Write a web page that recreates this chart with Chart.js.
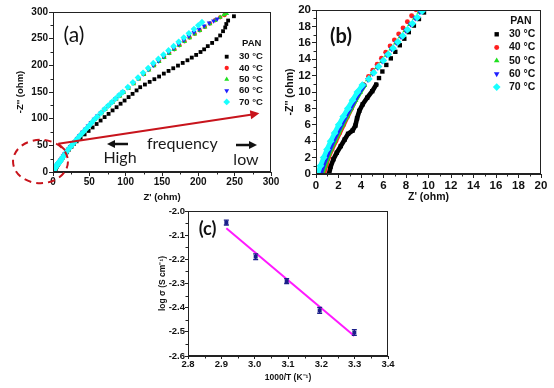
<!DOCTYPE html>
<html>
<head>
<meta charset="utf-8">
<script src="https://cdn.jsdelivr.net/npm/chart.js@4.4.1/dist/chart.umd.min.js"></script>
<style>
  html, body { margin: 0; padding: 0; background: #fff; }
  #wrap { position: relative; width: 554px; height: 388px; overflow: hidden; background: #fff; }
  canvas { position: absolute; }
</style>
</head>
<body>
<div id="wrap">
  <canvas id="chartA" width="295" height="206" style="left:0px;top:0px"></canvas>
  <canvas id="chartB" width="274" height="206" style="left:280px;top:0px"></canvas>
  <canvas id="chartC" width="260" height="188" style="left:150px;top:200px"></canvas>
</div>
<script>
// Nyquist data, [Z', -Z''] in ohm, one list per temperature
const temps = ['30 °C', '40 °C', '50 °C', '60 °C', '70 °C'];

const z30 = [[1.15,0],[1.3,0.9],[1.55,1.8],[1.85,2.6],[2.2,3.4],[2.55,4.2],[2.85,4.9],[3.25,5.3],[3.5,5.9],[3.65,6.8],[3.85,7.7],[4.15,8.5],[4.55,9.3],[5.0,10.1],[5.35,10.9],
  [5.6,11.7],[5.9,12.5],[6.25,13.3],[6.65,14.1],[7.05,14.9],[7.45,15.7],[7.85,16.5],[8.25,17.3],[8.7,18.1],[9.15,18.9],[9.6,19.7],[10.1,20.5],
  [11.5,23],[13.5,27],[16,32],[19,37],[22,42],[25.5,47.5],[29,53],[32.5,57.5],
  [38,64],[43.5,70.5],[49,77],[54.5,83.5],[60,90],[65.5,96.5],[71,103],[76.5,109],[82,115.5],[87.5,121.5],[93,128],[98.5,134],[104,140.5],[109.5,146.5],[115,153],[120,159],
  [126.5,164],[133,169],[139.5,174],[146,179],[152.5,184.5],[159,189.5],[165.5,194.5],[172,199.5],[178.5,204.5],[185,209.5],[191,214.5],[197,219.5],
  [203,225],[208,230],[213,236],[219,242],[225,249],[230,256],[234,264],[237,271],[238.5,277.5],[241,284],[249,292]];

const z40 = [[0.7,0],[0.88,1],[1.1,2],[1.4,3],[1.75,4],[2.1,5],[2.45,6],[2.8,7],[3.15,8],[3.5,9],[3.85,10],[4.2,10.9],
  [4.67,11.9],[5.05,12.64],[5.44,13.38],[5.82,14.12],[6.2,14.86],[6.59,15.6],[6.97,16.34],[7.35,17.08],[7.74,17.82],[8.12,18.56],[8.5,19.3],[8.88,20.04],[9.27,20.78],
  [10.5,23],[12,26],[14,30],[16,34],[18.5,38.5],[21,43],[24,48],[27,53],[30,57.5],[33.5,63],[37,68.5],[41,74.5],[45,80.5],[49,86.5],[53,92.5],[57.5,99],[62,105],[67,111.5],[72,118],[77,124.5],[82,131],[87,137],[92,143],[97,149.5],
  [104,158],[111,166.5],[118,175],[125,183.5],[132,192],[139,200],[146,208],[153,215.5],[160,223],[167,230],[174,237.5],[181,245],[188,252],[195,259],[202,265.5],[209,272],[216,278.5],[223,284.5],[230,290],[236,294]];

const z50 = [[0.55,0],[0.78,1],[1.03,2],[1.32,3],[1.65,4],[2.0,5],[2.35,6],[2.73,7],[3.12,8],[3.52,9],[3.93,10],[4.3,10.8],
  [4.6,11.5],[5.02,12.25],[5.43,13],[5.85,13.75],[6.27,14.5],[6.68,15.25],[7.1,16],[7.52,16.75],[7.93,17.5],[8.35,18.25],[8.77,19],[9.18,19.75],[9.6,20.5],
  [10.7,23],[12.2,26],[14.2,30],[16.2,34],[18.7,38.5],[21.2,43],[24.2,48],[27.2,53],[30.2,57.5],[33.7,63],[37.2,68.5],[41.2,74.5],[45.2,80.5],[49.2,86.5],[53.2,92.5],[57.5,98.5],[62,104.5],[67,111],[72,117.5],[77,124],[82,130.5],[87,136.5],[92,142.5],[97,149],
  [104,157],[111,165.5],[118,174],[125,182.5],[132,191],[139,199],[146,207],[153,214.5],[160,222],[167,229.5],[174,237],[181,244.5],[188,251.5],[195,258.5],[202,265],[209,271.5],[216,278],[223,284],[230,290],[235,294.5],[239,297]];

const z60 = [[0.4,0],[0.63,1],[0.9,2],[1.2,3],[1.52,4],[1.87,5],[2.23,6],[2.62,7],[3.02,8],[3.43,9],[3.85,10],[4.25,10.8],
  [4.62,11.5],[5.04,12.25],[5.46,13],[5.88,13.75],[6.3,14.5],[6.72,15.25],[7.14,16],[7.56,16.75],[7.98,17.5],[8.4,18.25],[8.82,19],[9.24,19.75],[9.66,20.5],
  [10.6,23],[12.1,26],[14,30],[16,34],[18.4,38.5],[20.9,43],[23.8,48],[26.8,53],[29.8,57.5],[33.2,63],[36.6,68.5],[40.5,74.5],[44.4,80.5],[48.3,86.5],[52.3,92.5],[56.6,99],[61,105],[66,111.5],[71,118],[76,124.5],[81,131],[86,137.5],[91,144],[96,150],
  [103,158.5],[110,167],[117,175.5],[124,184],[131,192.5],[138,200.5],[145,208.5],[152,216.5],[159,224.5],[166,232],[173,239.5],[180,247],[187,254.5],[194,261.5],[201,268],[208,274],[215,279.5],[221,283.5],[226,287]];

const z70 = [[0.15,0],[0.4,1],[0.68,2],[0.98,3],[1.3,4],[1.65,5],[2.02,6],[2.42,7],[2.83,8],[3.25,9],[3.68,10],[4.12,10.85],
  [4.7,11.6],[5.13,12.35],[5.56,13.1],[5.99,13.85],[6.42,14.6],[6.85,15.35],[7.28,16.1],[7.71,16.85],[8.14,17.6],[8.57,18.35],[9.0,19.1],[9.43,19.85],[9.86,20.6],
  [10.5,22],[12,25],[14,29],[16,33],[18.5,37.5],[21,42],[24,47],[27,52],[30,57],[33.5,62.5],[37,68],[41,74],[45,80],[49,86],[53,92],[57,98.5],[61,104],[66,111],[71,118],[76,124.5],[81,131],[86,137.5],[91,144],[96,150],
  [103,159],[110,168],[117,177],[124,186],[131,195],[138,204],[145,212],[152,220],[159,228],[166,236],[173,244],[180,252],[187,260],[194,268],[200,275],[205,281]];

const ticksA = [0, 50, 100, 150, 200, 250, 300];
const ticksB = [0, 2, 4, 6, 8, 10, 12, 14, 16, 18, 20];

// Arrhenius plot
const invT = [2.915, 3.003, 3.096, 3.195, 3.299];
const logSigma = [-2.048, -2.189, -2.290, -2.411, -2.503];
const sigmaErr = [0.010, 0.012, 0.010, 0.012, 0.012];
const fitInvT = [2.915, 3.299];
const fitLogSigma = [-2.071, -2.517];
const ticksInvT = [2.8, 2.9, 3.0, 3.1, 3.2, 3.3, 3.4];
const ticksLogSigma = [-2.6, -2.5, -2.4, -2.3, -2.2, -2.1, -2.0];

// styles
const seriesStyle = [
  { color: '#000000', shape: 'rect', rot: 0, k: 1.0 },
  { color: '#ff1f1f', shape: 'circle', rot: 0, k: 0.8 },
  { color: '#1fe01f', shape: 'triangle', rot: 0, k: 1.05 },
  { color: '#1f1fff', shape: 'triangle', rot: 180, k: 1.05 },
  { color: '#19ffff', shape: 'rectRot', rot: 0, k: 1.25 }
];
const SANS = '"Liberation Sans", Arial, sans-serif';
const font = (size, weight = 'bold') => ({ family: SANS, size, weight });

function axis(ticks, o) {
  return {
    type: 'linear',
    min: ticks[0],
    max: ticks[ticks.length - 1],
    afterBuildTicks: s => { s.ticks = ticks.map(v => ({ value: v })); },
    afterFit: s => { if (s.isHorizontal()) s.height = o.fit; else s.width = o.fit; },
    ticks: { font: font(o.size), color: '#111', padding: o.pad, autoSkip: false, maxRotation: 0,
      callback: o.fmt || (v => v) },
    grid: { drawOnChartArea: false, drawTicks: true, tickLength: o.tl || 4, tickColor: '#222', color: '#222' },
    border: { display: true, color: '#222', width: 1 },
    title: { display: true, text: o.title, font: font(o.tsize), color: '#111',
      padding: { top: o.tpad, bottom: o.tpad } }
  };
}

// box round the plot + minor ticks halfway between major ones
const frame = {
  id: 'frame',
  afterDraw(chart) {
    const { ctx, chartArea: a, scales: { x, y } } = chart;
    ctx.save();
    ctx.strokeStyle = '#222';
    ctx.lineWidth = 1;
    ctx.strokeRect(Math.round(a.left) + 0.5, Math.round(a.top) + 0.5, Math.round(a.width) - 1, Math.round(a.height) - 1);
    ctx.beginPath();
    for (let i = 0; i < x.ticks.length - 1; i++) {
      const px = Math.round(x.getPixelForValue((x.ticks[i].value + x.ticks[i + 1].value) / 2)) + 0.5;
      ctx.moveTo(px, a.bottom); ctx.lineTo(px, a.bottom + 2.5);
    }
    for (let i = 0; i < y.ticks.length - 1; i++) {
      const py = Math.round(y.getPixelForValue((y.ticks[i].value + y.ticks[i + 1].value) / 2)) + 0.5;
      ctx.moveTo(a.left, py); ctx.lineTo(a.left - 2.5, py);
    }
    ctx.stroke();
    ctx.restore();
  }
};

const panelTag = {
  id: 'panelTag',
  afterDraw(chart, args, o) {
    const { ctx, chartArea: a } = chart;
    ctx.save();
    ctx.font = `${o.weight} ${o.size}px Lato, "Open Sans", sans-serif`;
    ctx.fillStyle = '#111';
    ctx.textAlign = 'center';
    ctx.textBaseline = 'middle';
    ctx.fillText(o.text, a.left + o.dx, a.top + o.dy);
    ctx.restore();
  }
};

const panLegend = {
  id: 'panLegend',
  afterDraw(chart, args, o) {
    const { ctx, chartArea: a } = chart;
    ctx.save();
    ctx.font = `bold ${o.size}px ${SANS}`;
    ctx.textBaseline = 'middle';
    ctx.fillStyle = '#111';
    ctx.textAlign = 'center';
    ctx.fillText('PAN', a.right + o.headDx, a.top + o.headDy);
    ctx.textAlign = 'left';
    chart.data.datasets.forEach((ds, i) => {
      const yy = a.top + o.rowDy + i * o.rowGap;
      ctx.fillStyle = ds.pointBackgroundColor;
      Chart.helpers.drawPoint(ctx, { pointStyle: ds.pointStyle, rotation: ds.rotation, radius: ds.pointRadius, borderWidth: 0 },
        a.right + o.markDx, yy);
      ctx.fillStyle = '#111';
      ctx.fillText(ds.label, a.right + o.textDx, yy);
    });
    ctx.restore();
  }
};

// ellipse, arrows and words on panel (a)
const sweepNotes = {
  id: 'sweepNotes',
  afterDraw(chart) {
    const { ctx, scales: { x, y } } = chart;
    const px = v => x.getPixelForValue(v);
    const py = v => y.getPixelForValue(v);
    const arrow = (x0, y0, x1, y1, head, color, w) => {
      const ang = Math.atan2(y1 - y0, x1 - x0);
      ctx.strokeStyle = color; ctx.fillStyle = color; ctx.lineWidth = w;
      ctx.beginPath();
      ctx.moveTo(x0, y0);
      ctx.lineTo(x1 - Math.cos(ang) * head * 0.8, y1 - Math.sin(ang) * head * 0.8);
      ctx.stroke();
      ctx.beginPath();
      ctx.moveTo(x1, y1);
      ctx.lineTo(x1 - head * Math.cos(ang) + head * 0.5 * Math.sin(ang), y1 - head * Math.sin(ang) - head * 0.5 * Math.cos(ang));
      ctx.lineTo(x1 - head * Math.cos(ang) - head * 0.5 * Math.sin(ang), y1 - head * Math.sin(ang) + head * 0.5 * Math.cos(ang));
      ctx.closePath();
      ctx.fill();
    };
    ctx.save();
    ctx.strokeStyle = '#c8141c';
    ctx.lineWidth = 2;
    ctx.setLineDash([7, 5]);
    ctx.beginPath();
    ctx.ellipse(px(-17.2), py(19.7), px(37.8) - px(0), py(0) - py(40.7), 0, 0, Math.PI * 2);
    ctx.stroke();
    ctx.setLineDash([]);
    ctx.beginPath();
    ctx.moveTo(px(16.5), py(41.2));
    ctx.lineTo(px(7.3), py(53));
    ctx.stroke();
    arrow(px(7.3), py(53), px(284), py(110), 9, '#c8141c', 2);
    arrow(px(103.2), py(52.5), px(74.3), py(52.5), 8, '#111', 2.5);
    arrow(px(251.8), py(50.6), px(280.7), py(50.6), 8, '#111', 2.5);
    ctx.fillStyle = '#1a1a1a';
    ctx.font = '16px Lato, "Open Sans", sans-serif';
    ctx.textAlign = 'center';
    ctx.textBaseline = 'middle';
    ctx.fillText('frequency', px(178), py(52.5));
    ctx.fillText('High', px(92.2), py(26.3));
    ctx.fillText('low', px(265.6), py(22.5));
    ctx.restore();
  }
};

function nyquistSets(base, joinBelow) {
  return [z30, z40, z50, z60, z70].map((pts, i) => {
    const st = seriesStyle[i];
    const set = {
      label: temps[i],
      data: pts.map(p => ({ x: p[0], y: p[1] })),
      showLine: joinBelow !== null,
      borderColor: st.color,
      backgroundColor: st.color,
      borderWidth: base * 1.5,
      borderCapStyle: 'round',
      borderJoinStyle: 'round',
      pointStyle: st.shape,
      rotation: st.rot,
      pointRadius: base * st.k,
      pointBorderWidth: 0,
      pointBackgroundColor: st.color,
      order: 5 - i
    };
    if (joinBelow !== null) {
      set.segment = {
        borderColor: c => (pts[c.p1DataIndex][1] <= joinBelow ? st.color : 'rgba(0,0,0,0)')
      };
    }
    return set;
  });
}

const common = {
  responsive: false,
  animation: false,
  events: []
};

new Chart(document.getElementById('chartA'), {
  type: 'scatter',
  data: { datasets: nyquistSets(2.7, null) },
  options: {
    ...common,
    layout: { padding: { left: 0, top: 12, right: 24, bottom: 0 } },
    scales: {
      x: axis(ticksA, { fit: 34, size: 10, pad: 0.5, title: "Z' (ohm)", tsize: 9.5, tpad: 3.3, }),
      y: axis(ticksA, { fit: 53, size: 10, pad: 1, title: "-Z'' (ohm)", tsize: 9.5, tpad: 14.3 })
    },
    plugins: {
      legend: { display: false },
      tooltip: { enabled: false },
      panelTag: { text: '(a)', dx: 21, dy: 23.5, size: 21, weight: 'normal' },
      panLegend: { size: 9.5, headDx: -19.3, headDy: 31.3, markDx: -44.3, textDx: -32, rowDy: 44.7, rowGap: 11.3 }
    }
  },
  plugins: [frame, sweepNotes, panelTag, panLegend]
});

new Chart(document.getElementById('chartB'), {
  type: 'scatter',
  data: { datasets: nyquistSets(3.1, 11) },
  options: {
    ...common,
    layout: { padding: { left: 0, top: 10, right: 13, bottom: 0 } },
    scales: {
      x: axis(ticksB, { fit: 32, size: 11.5, pad: 1, title: "Z' (ohm)", tsize: 10.5, tpad: 2.7 }),
      y: axis(ticksB, { fit: 36, size: 11.5, pad: 1, title: "-Z'' (ohm)", tsize: 10.5, tpad: 3.7 })
    },
    plugins: {
      legend: { display: false },
      tooltip: { enabled: false },
      panelTag: { text: '(b)', dx: 25, dy: 26.5, size: 20, weight: 'bold' },
      panLegend: { size: 10.5, headDx: -20, headDy: 10.7, markDx: -44.3, textDx: -32, rowDy: 24.3, rowGap: 13.2 }
    }
  },
  plugins: [frame, panelTag, panLegend]
});

// error bars for panel (c)
const errorBars = {
  id: 'errorBars',
  afterDatasetsDraw(chart) {
    const { ctx, scales: { x, y } } = chart;
    ctx.save();
    ctx.strokeStyle = '#1b1f8a';
    ctx.lineWidth = 1.3;
    ctx.beginPath();
    invT.forEach((t, i) => {
      const cx = x.getPixelForValue(t);
      const top = y.getPixelForValue(logSigma[i] + sigmaErr[i]);
      const bot = y.getPixelForValue(logSigma[i] - sigmaErr[i]);
      ctx.moveTo(cx, top); ctx.lineTo(cx, bot);
      ctx.moveTo(cx - 2.5, top); ctx.lineTo(cx + 2.5, top);
      ctx.moveTo(cx - 2.5, bot); ctx.lineTo(cx + 2.5, bot);
    });
    ctx.stroke();
    ctx.restore();
  }
};

new Chart(document.getElementById('chartC'), {
  type: 'scatter',
  data: {
    datasets: [
      {
        label: 'log sigma',
        data: invT.map((t, i) => ({ x: t, y: logSigma[i] })),
        pointStyle: 'rect',
        pointRadius: 2.8,
        pointBorderWidth: 0,
        pointBackgroundColor: '#1b1f8a',
        order: 0
      },
      {
        label: 'fit',
        data: fitInvT.map((t, i) => ({ x: t, y: fitLogSigma[i] })),
        showLine: true,
        borderColor: '#ff1aff',
        borderWidth: 2,
        pointRadius: 0,
        order: 1
      }
    ]
  },
  options: {
    ...common,
    layout: { padding: { left: 0, top: 11, right: 22, bottom: 0 } },
    scales: {
      x: axis(ticksInvT, { fit: 32, size: 9.5, pad: 0, tl: 3, title: '1000/T (K⁻¹)', tsize: 8.5, tpad: 4.9, fmt: v => v.toFixed(1) }),
      y: axis(ticksLogSigma, { fit: 38, size: 9.5, pad: 0, tl: 3, title: 'log σ (S cm⁻¹)', tsize: 8.5, tpad: 7.5, fmt: v => v.toFixed(1) })
    },
    plugins: {
      legend: { display: false },
      tooltip: { enabled: false },
      panelTag: { text: '(c)', dx: 19.5, dy: 18.5, size: 18, weight: 'bold' }
    }
  },
  plugins: [frame, errorBars, panelTag]
});
</script>
</body>
</html>
